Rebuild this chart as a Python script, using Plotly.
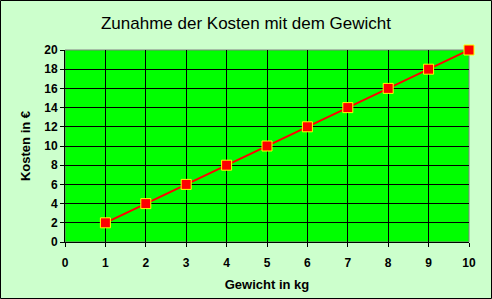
import plotly.graph_objects as go

gewicht = [1, 2, 3, 4, 5, 6, 7, 8, 9, 10]
kosten = [2, 4, 6, 8, 10, 12, 14, 16, 18, 20]

W, H = 492, 299
ml, mr, mt, mb = 65, 23, 50, 57
pw, ph = W - ml - mr, H - mt - mb

fig = go.Figure()
fig.add_trace(go.Scatter(
    x=gewicht, y=kosten, mode="lines+markers",
    line=dict(color="#FF0000", width=2),
    marker=dict(symbol="square", size=10, color="#FF0000",
                line=dict(color="#FFFF00", width=1)),
    cliponaxis=False, showlegend=False))

font_axis = dict(family="Liberation Sans, Arial", size=13, color="black")
fig.update_layout(
    width=W, height=H,
    margin=dict(l=ml, r=mr, t=mt, b=mb, autoexpand=False),
    paper_bgcolor="#CCFFCC", plot_bgcolor="#00FF00",
    title=dict(text="Zunahme der Kosten mit dem Gewicht", x=0.5, xanchor="center",
               y=1 - 23 / H, yanchor="middle",
               font=dict(family="Liberation Sans, Arial", size=17, color="black")),
    xaxis=dict(range=[0, 10], dtick=1, tick0=0, showgrid=True, gridcolor="black", gridwidth=1,
               showline=True, linecolor="black", linewidth=1, ticks="outside", ticklen=4,
               tickcolor="black", zeroline=False, ticklabelstandoff=6, automargin=False,
               tickfont=dict(family="Liberation Sans, Arial", size=12, color="black", weight="bold"),
               title=dict(text="<b>Gewicht in kg</b>", font=font_axis, standoff=10)),
    yaxis=dict(range=[0, 20], dtick=2, tick0=0, showgrid=True, gridcolor="black", gridwidth=1,
               showline=True, linecolor="black", linewidth=1, ticks="outside", ticklen=4,
               tickcolor="black", zeroline=False, automargin=False,
               tickfont=dict(family="Liberation Sans, Arial", size=12, color="black", weight="bold"),
               title=dict(text="<b>Kosten in €</b>", font=font_axis, standoff=10)),
    shapes=[
        dict(type="rect", xref="paper", yref="paper", x0=0, x1=1, y0=0, y1=1,
             line=dict(color="#808080", width=1), layer="below"),
        dict(type="rect", xref="paper", yref="paper",
             x0=(-ml + 0.5) / pw, x1=1 + (mr - 0.5) / pw,
             y0=(-mb + 0.5) / ph, y1=1 + (mt - 0.5) / ph,
             line=dict(color="black", width=1)),
    ],
)
fig.write_html("out.html")
